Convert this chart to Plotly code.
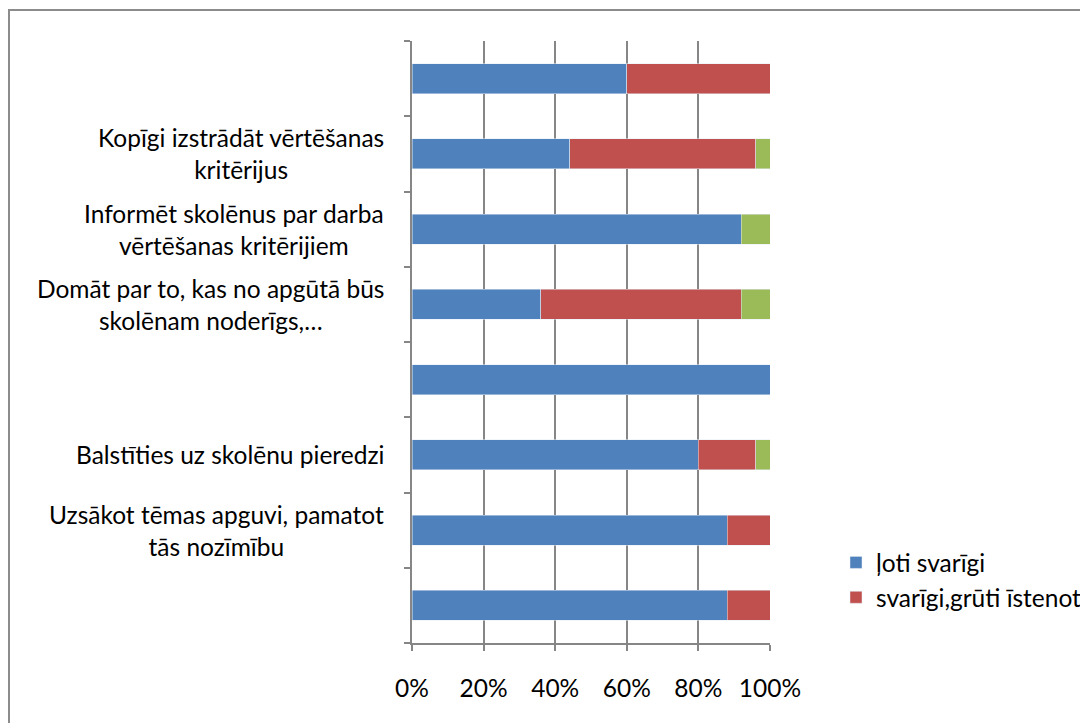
import plotly.graph_objects as go

# categories bottom -> top (empty labels are skipped in the original)
labels = [
    "",
    "Uzsākot tēmas apguvi, pamatot<br>tās nozīmību",
    "Balstīties uz skolēnu pieredzi",
    "",
    "Domāt par to, kas no apgūtā būs<br>skolēnam noderīgs,…",
    "Informēt skolēnus par darba<br>vērtēšanas kritērijiem",
    "Kopīgi izstrādāt vērtēšanas<br>kritērijus",
    "",
]
positions = [1, 2, 3, 4, 5, 6, 7, 8]
very_important = [88, 88, 80, 100, 36, 92, 44, 60]
important_hard = [12, 12, 16, 0, 56, 0, 52, 40]
other = [0, 0, 4, 0, 8, 8, 4, 0]
x_ticks = [0, 20, 40, 60, 80, 100]
x_ticktext = ["0%", "20%", "40%", "60%", "80%", "100%"]

FONT = "Lato, 'Open Sans', sans-serif"
FS = 24.5
OFF = 8  # default page body margin
W, H = 1088 - OFF, 723 - OFF
L, T = 412 - OFF, 41 - OFF
pw, ph = 358, 602
R, B = W - L - pw, H - T - ph

fig = go.Figure()
fig.add_trace(go.Bar(y=positions, x=very_important, orientation="h", name="ļoti svarīgi",
                     marker_color="#4F81BD", width=0.4))
fig.add_trace(go.Bar(y=positions, x=important_hard, orientation="h", name="svarīgi,grūti īstenot",
                     marker_color="#C0504D", width=0.4))
fig.add_trace(go.Bar(y=positions, x=other, orientation="h", name="cits",
                     marker_color="#9BBB59", width=0.4, showlegend=False))

for p, lab in zip(positions, labels):
    if lab:
        fig.add_annotation(x=0, xref="paper", y=p, yref="y", text=lab, showarrow=False,
                           xanchor="right", xshift=-26, align="center",
                           font=dict(family=FONT, size=FS, color="#000"))

# outer chart border (left/top edges visible; right/bottom run off the page)
fig.add_shape(type="rect", xref="paper", yref="paper",
              x0=(1 - L) / pw, x1=(W + 20 - L) / pw,
              y0=-(H + 20 - T - ph) / ph, y1=1 + (T - 2) / ph,
              line=dict(color="#8c8c8c", width=2), layer="below")

fig.update_layout(
    barmode="stack",
    width=W, height=H,
    margin=dict(l=L, r=R, t=T, b=B, autoexpand=False),
    paper_bgcolor="white", plot_bgcolor="white",
    font=dict(family=FONT, size=FS, color="#000"),
    showlegend=True,
    legend=dict(x=(836 - 412) / pw, xanchor="left", y=1 - (540 - 41) / ph, yanchor="top",
                traceorder="normal",
                font=dict(family=FONT, size=FS), itemwidth=30, tracegroupgap=0,
                bgcolor="rgba(0,0,0,0)"),
    xaxis=dict(range=[0, 100], tickvals=x_ticks, ticktext=x_ticktext,
               showgrid=True, gridcolor="#868686", gridwidth=2,
               showline=True, linecolor="#868686", linewidth=2,
               ticks="outside", ticklen=6, tickcolor="#868686", tickwidth=2,
               ticklabelstandoff=17, zeroline=False, fixedrange=True),
    yaxis=dict(range=[0.5, 8.5], tickvals=[0.5 + i for i in range(9)],
               ticktext=[""] * 9, showgrid=False, zeroline=False,
               showline=True, linecolor="#868686", linewidth=2,
               ticks="outside", ticklen=6, tickcolor="#868686", tickwidth=2),
)

fig.write_html("out.html")
